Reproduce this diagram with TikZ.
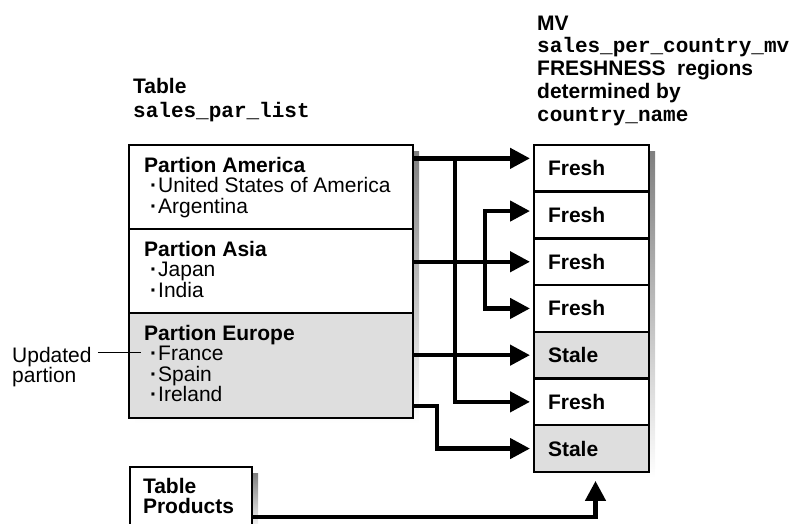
\documentclass[tikz,border=0pt]{standalone}
\usepackage{fontspec}
\setmainfont{Liberation Sans}
\setmonofont{Liberation Mono}
\usetikzlibrary{positioning,calc,arrows.meta,backgrounds}
\definecolor{stalegray}{HTML}{DEDEDE}
\definecolor{shade}{HTML}{E8E8E8}
\newcommand{\bul}{\hspace*{6pt}\textbf{\textperiodcentered}\hspace{1pt}}
\tikzset{
	box/.style={draw, fill=white, line width=2.5pt, rectangle, inner sep=0pt, outer sep=0pt, anchor=north west},
	part/.style={box, minimum width=284pt, minimum height=84pt},
	cell/.style={box, minimum width=115pt, minimum height=46.7pt, text width=87pt, inner xsep=14pt, align=left, font=\fontsize{21}{21}\selectfont\bfseries},
	stale/.style={cell, fill=stalegray},
	txt/.style={inner sep=0pt, anchor=base west, align=left, font=\fontsize{21}{20.5}\selectfont},
	title/.style={txt, font=\fontsize{21}{#1}\selectfont\bfseries},
	arr/.style={line width=4.5pt, arrows=-{Triangle[length=20pt,width=20pt]}, shorten >=4pt}
}
\begin{document}
\begin{tikzpicture}[x=1pt,y=-1pt]
	\useasboundingbox (0,0) rectangle (789,523);
	\node [title=24] (tbl-title) at (133,117) {Table\\\texttt{sales\_par\_list}};
	\node [title=22.75] (mv-title) at (537,121) {MV\\\texttt{sales\_per\_country\_mv}\\FRESHNESS\ \ regions\\determined by\\\texttt{country\_name}};
	\node [part] (america) at (129,145) {};
	\node [part, below=0pt of america] (asia) {};
	\node [part, below=0pt of asia, minimum height=105pt, fill=stalegray] (europe) {};
	\node [txt] (america-txt) at ($(america.north west)+(15,68)$) {\textbf{Partion America}\\\bul United States of America\\\bul Argentina};
	\node [txt] (asia-txt) at ($(asia.north west)+(15,68)$) {\textbf{Partion Asia}\\\bul Japan\\\bul India};
	\node [txt] (europe-txt) at ($(europe.north west)+(15,88.5)$) {\textbf{Partion Europe}\\\bul France\\\bul Spain\\\bul Ireland};
	\node [txt, font=\fontsize{21}{20}\selectfont] (updated) at (12,382) {Updated\\partion};
	\coordinate (france) at ($(europe.north west)+(12,39)$);
	\draw [line width=1pt] ($(updated.east |- france)+(6,0)$) -- (france);
	\node [cell] (c1) at (534,145) {Fresh};
	\node [cell, below=0pt of c1] (c2) {Fresh};
	\node [cell, below=0pt of c2] (c3) {Fresh};
	\node [cell, below=0pt of c3] (c4) {Fresh};
	\node [stale, below=0pt of c4] (c5) {Stale};
	\node [cell, below=0pt of c5] (c6) {Fresh};
	\node [stale, below=0pt of c6] (c7) {Stale};
	\node [box, minimum width=122pt, minimum height=58pt, text width=96pt, inner xsep=13pt, align=left, font=\fontsize{21}{20}\selectfont\bfseries] (products) at (130,467) {Table\\Products};
	\begin{scope}[on background layer]
	\fill [shade] ($(america.north west)+(6,6)$) rectangle ($(europe.south east)+(6,6)$);
	\fill [shade] ($(c1.north west)+(6,6)$) rectangle ($(c7.south east)+(6,6)$);
	\fill [shade] ($(products.north west)+(6,6)$) rectangle ($(products.south east)+(6,6)$);
	\end{scope}
	\coordinate (split) at ($(c1.west)+(-79,-10)$);
	\coordinate (fork) at ($(c3.west)+(-49,0)$);
	\draw [arr] (america.east |- split) -- (c1.west |- split);
	\draw [arr] (split) |- (c6.west);
	\draw [arr] (asia.east |- c3) -- (c3.west);
	\draw [arr] (fork) |- ($(c2.west)+(0,-4)$);
	\draw [arr] (fork) |- (c4.west);
	\draw [arr] (europe.east |- c5) -- (c5.west);
	\draw [arr] ($(europe.south east)+(0,-12)$) -- ++(24,0) |- (c7.west);
	\draw [arr, shorten >=9pt] ($(products.north east)+(0,50)$) -| ($(c7.south)+(4,0)$);
\end{tikzpicture}
\end{document}
